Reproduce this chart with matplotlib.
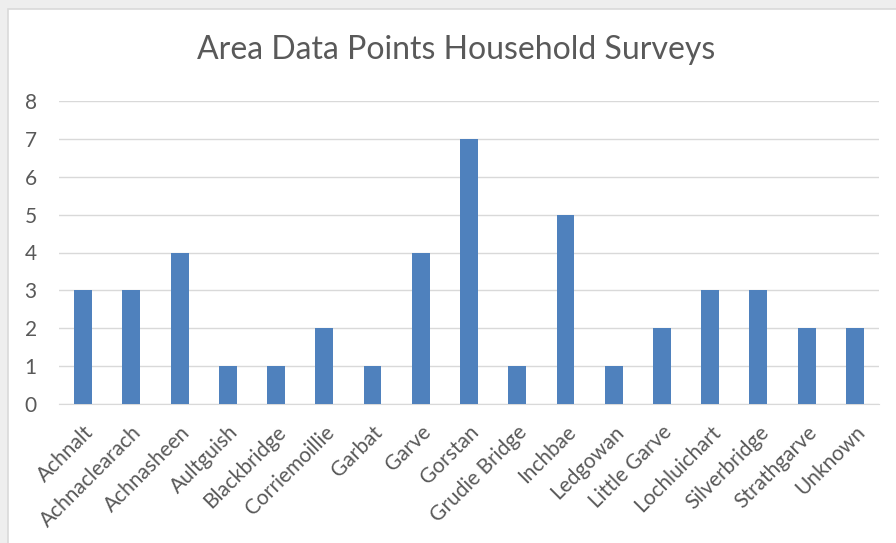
import matplotlib.pyplot as plt
from matplotlib.patches import Rectangle

areas = ['Achnalt', 'Achnaclearach', 'Achnasheen', 'Aultguish', 'Blackbridge',
         'Corriemoillie', 'Garbat', 'Garve', 'Gorstan', 'Grudie Bridge',
         'Inchbae', 'Ledgowan', 'Little Garve', 'Lochluichart', 'Silverbridge',
         'Strathgarve', 'Unknown']
counts = [3, 3, 4, 1, 1, 2, 1, 4, 7, 1, 5, 1, 2, 3, 3, 2, 2]

plt.rcParams['font.family'] = ['Lato', 'DejaVu Sans']
W, H = 896, 543
fig = plt.figure(figsize=(W / 100, H / 100), dpi=100, facecolor='#EEEEEE')

# white chart area with thin border
fig.patches.append(Rectangle((8 / W, -0.01), 1, 1.01 - 9 / H, transform=fig.transFigure,
                             facecolor='white', edgecolor='#D9D9D9', lw=1.2, zorder=-5))

ax = fig.add_axes([59 / W, 1 - 404 / H, 820 / W, 303 / H])
ax.set_zorder(2)
ax.set_facecolor('none')
x = range(len(areas))
ax.bar(x, counts, width=0.37, color='#4F81BD', zorder=3)
ax.set_xlim(-0.5, len(areas) - 0.5)
ax.set_ylim(0, 8)
ax.set_yticks(range(9))
ax.grid(axis='y', color='#D9D9D9', lw=1)
for s in ['top', 'right', 'left']:
    ax.spines[s].set_visible(False)
ax.spines['bottom'].set_color('#D9D9D9')
ax.tick_params(length=0, colors='#595959', labelsize=15)
ax.tick_params(axis='y', pad=16)
ax.tick_params(axis='x', pad=13)
ax.set_xticks(list(x))
ax.set_xticklabels(areas, rotation=45, ha='right', va='top', rotation_mode='anchor')

fig.text(456 / W, 1 - 50 / H, 'Area Data Points Household Surveys', ha='center',
         va='center', fontsize=23, color='#595959')

fig.savefig('out.png', dpi=100, facecolor=fig.get_facecolor())
